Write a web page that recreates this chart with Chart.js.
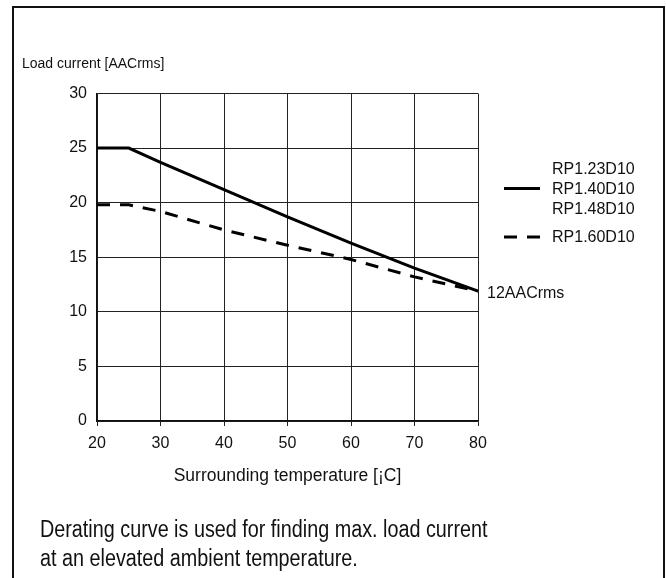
<!DOCTYPE html>
<html>
<head>
<meta charset="utf-8">
<script src="https://cdn.jsdelivr.net/npm/chart.js@4.4.1/dist/chart.umd.min.js"></script>
<style>
  html, body { margin: 0; padding: 0; background: #fff; }
  #wrap { position: relative; width: 666px; height: 578px; overflow: hidden; }
  #frame { position: absolute; left: 12px; top: 6px; width: 653px; height: 620px; border: 2px solid #111; box-sizing: border-box; }
  #chart { position: absolute; left: 0; top: 0; }
  #note { position: absolute; left: 40px; top: 515px; margin: 0; color: #111; white-space: nowrap;
          font: 23px "Liberation Sans", Arial, sans-serif; line-height: 29px;
          transform: scaleX(0.86); transform-origin: 0 0; }
</style>
</head>
<body>
<div id="wrap">
  <div id="frame"></div>
  <canvas id="chart" width="666" height="578"></canvas>
  <p id="note">Derating curve is used for finding max. load current<br>at an elevated ambient temperature.</p>
</div>
<script>
// temperature [°C] and load current [AACrms]
const temps = [20, 25, 30, 40, 50, 60, 70, 80];
const currentA = [25, 25, 23.7, 21.2, 18.7, 16.3, 14.0, 11.9];   // RP1.23/1.40/1.48D10
const currentB = [19.8, 19.8, 19.2, 17.5, 16.1, 14.8, 13.2, 11.9]; // RP1.60D10
const xTicks = [20, 30, 40, 50, 60, 70, 80];
const yTicks = [0, 5, 10, 15, 20, 25, 30];
const labelsA = ['RP1.23D10', 'RP1.40D10', 'RP1.48D10'];
const labelsB = ['RP1.60D10'];
const endNote = '12AACrms';
const yTitle = 'Load current [AACrms]';
const xTitle = 'Surrounding temperature [¡C]';

const FONT = '"Liberation Sans", Arial, sans-serif';
const DASH = [13, 10];

const toPoints = ys => temps.map((t, i) => ({ x: t, y: ys[i] }));

// legend, end label and y title are drawn by hand
const extras = {
  id: 'extras',
  afterDraw(chart) {
    const { ctx, scales: { x, y } } = chart;
    ctx.save();
    ctx.fillStyle = '#111';
    ctx.textBaseline = 'middle';

    ctx.font = '14px ' + FONT;
    ctx.textAlign = 'left';
    ctx.fillText(yTitle, 22, 64);

    ctx.font = '16px ' + FONT;
    const lx = 552;
    [170, 189.5, 210].forEach((ty, i) => ctx.fillText(labelsA[i], lx, ty));
    ctx.fillText(labelsB[0], lx, 237.5);

    ctx.strokeStyle = '#000';
    ctx.lineWidth = 3;
    ctx.beginPath();
    ctx.moveTo(504, 188.5); ctx.lineTo(540, 188.5);
    ctx.stroke();
    ctx.setLineDash(DASH);
    ctx.beginPath();
    ctx.moveTo(504, 237); ctx.lineTo(541, 237);
    ctx.stroke();
    ctx.setLineDash([]);

    const last = temps.length - 1;
    ctx.fillText(endNote, x.getPixelForValue(temps[last]) + 9, y.getPixelForValue(currentA[last]) + 3);
    ctx.restore();
  }
};

new Chart(document.getElementById('chart'), {
  type: 'line',
  data: {
    datasets: [
      { label: labelsA.join(' '), data: toPoints(currentA), borderColor: '#000', borderWidth: 3,
        pointRadius: 0, tension: 0, fill: false },
      { label: labelsB[0], data: toPoints(currentB), borderColor: '#000', borderWidth: 3,
        borderDash: DASH, pointRadius: 0, tension: 0, fill: false }
    ]
  },
  options: {
    responsive: false,
    animation: false,
    devicePixelRatio: 1,
    layout: { padding: { left: 57, top: 93.5, right: 188, bottom: 87 } },
    plugins: { legend: { display: false }, tooltip: { enabled: false } },
    scales: {
      x: {
        type: 'linear', min: 20, max: 80,
        afterBuildTicks: s => { s.ticks = xTicks.map(v => ({ value: v })); },
        afterFit: s => { s.height = 70; },
        grid: { color: '#222', lineWidth: 1, tickLength: 5 },
        border: { color: '#111', width: 1.5 },
        ticks: { color: '#111', font: { family: FONT, size: 16 }, padding: 8, maxRotation: 0 },
        title: { display: true, text: xTitle, color: '#111', font: { family: FONT, size: 17.5 },
                 padding: { top: 0, bottom: 4 } }
      },
      y: {
        min: 0, max: 30,
        afterBuildTicks: s => { s.ticks = yTicks.map(v => ({ value: v })); },
        afterFit: s => { s.width = 40; },
        grid: { color: '#222', lineWidth: 1, drawTicks: false },
        border: { color: '#111', width: 1.5 },
        ticks: { color: '#111', font: { family: FONT, size: 16 }, padding: 10 }
      }
    }
  },
  plugins: [extras]
});
</script>
</body>
</html>
